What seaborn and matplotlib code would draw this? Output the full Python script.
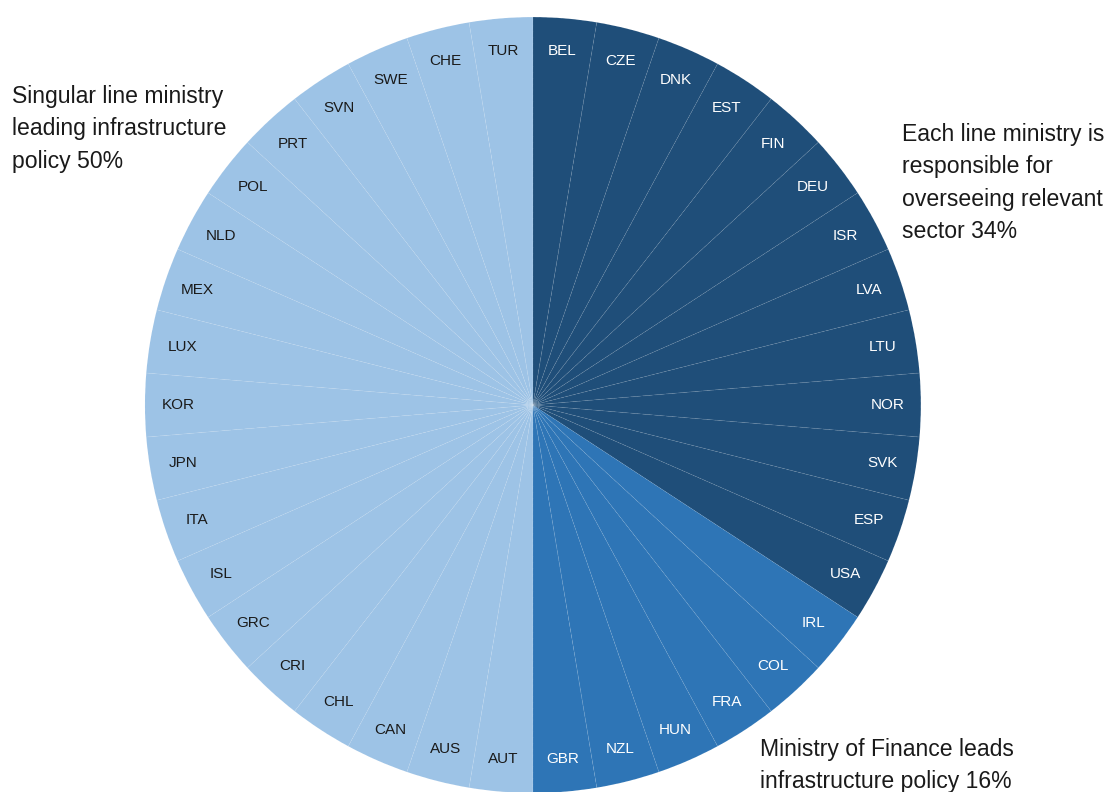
import matplotlib
matplotlib.use("Agg")
import matplotlib.pyplot as plt
import seaborn as sns

sns.set_theme(style="white")
plt.rcParams['font.family'] = ['Liberation Sans', 'DejaVu Sans']

# Data (clockwise from 12 o'clock)
group_each_line = ["BEL", "CZE", "DNK", "EST", "FIN", "DEU", "ISR", "LVA", "LTU",
                   "NOR", "SVK", "ESP", "USA"]
group_mof = ["IRL", "COL", "FRA", "HUN", "NZL", "GBR"]
group_singular = ["AUT", "AUS", "CAN", "CHL", "CRI", "GRC", "ISL", "ITA", "JPN",
                  "KOR", "LUX", "MEX", "NLD", "POL", "PRT", "SVN", "SWE", "CHE", "TUR"]

group_titles = ["Each line ministry is\nresponsible for\noverseeing relevant\nsector 34%",
                "Ministry of Finance leads\ninfrastructure policy 16%",
                "Singular line ministry\nleading infrastructure\npolicy 50%"]
group_colors = ["#1f4e79", "#2e75b6", "#9dc3e6"]
label_colors = ["white", "white", "#1a1a1a"]

groups = [group_each_line, group_mof, group_singular]
countries, colors, lcolors = [], [], []
for g, c, lc in zip(groups, group_colors, label_colors):
    countries += g
    colors += [c] * len(g)
    lcolors += [lc] * len(g)
sizes = [1] * len(countries)

fig = plt.figure(figsize=(11.10, 7.92), dpi=100)
ax = fig.add_axes([0.1306, -0.0014, 0.699, 0.98])
wedges, texts = ax.pie(sizes, labels=countries, colors=colors, startangle=90,
                       counterclock=False, labeldistance=0.915, radius=1.0,
                       wedgeprops=dict(edgecolor=(1, 1, 1, 0.10), linewidth=0.6,
                                       linestyle=(0, (4, 3))),
                       textprops=dict(fontsize=11))
for t, lc in zip(texts, lcolors):
    t.set_color(lc)
    t.set_ha("center")
    t.set_va("center")
ax.set_xlim(-1, 1)
ax.set_ylim(-1, 1)
ax.set_aspect("equal")
ax.axis("off")

txt_kw = dict(fontsize=16.6, color="#1a1a1a", linespacing=1.52, va="top", ha="left")
fig.text(12 / 1110, 1 - 85 / 792, group_titles[2], **txt_kw)
fig.text(902 / 1110, 1 - 123 / 792, group_titles[0], **txt_kw)
fig.text(760 / 1110, 1 - 738 / 792, group_titles[1], **txt_kw)

fig.savefig("out.png", dpi=100)
